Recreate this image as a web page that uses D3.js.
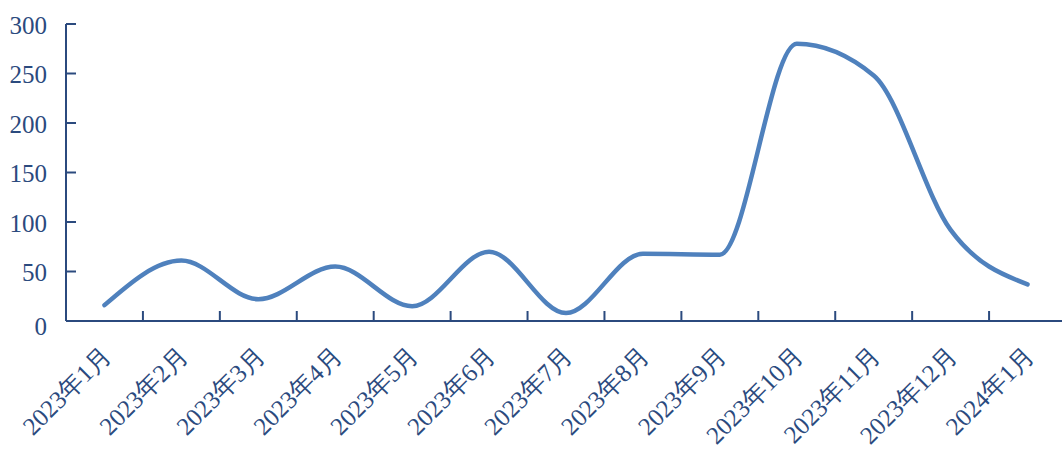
<!DOCTYPE html>
<html><head><meta charset="utf-8">
<script src="https://cdn.jsdelivr.net/npm/d3@7"></script>
<style>body{margin:0;background:#fff}svg{display:block}</style>
</head><body><svg id="c" width="1062" height="454"></svg>
<script>
const categories = ["2023年1月","2023年2月","2023年3月","2023年4月","2023年5月","2023年6月","2023年7月","2023年8月","2023年9月","2023年10月","2023年11月","2023年12月","2024年1月"];
const values = [16, 61, 22, 55, 15, 70, 8, 68, 67, 280, 248, 92, 37];
const yTicks = [0, 50, 100, 150, 200, 250, 300];

(function () {
const svg = d3.select("#c");
const axisColor = "#2b4a7e";
const font = "'Liberation Serif','Times New Roman',serif";
const mLeft = 66, mRight = 1066, mTop = 24, mBottom = 321;

const x = d3.scaleBand().domain(categories).range([mLeft, mRight]);
const y = d3.scaleLinear().domain([0, 300]).range([mBottom, mTop]);

// y axis
svg.append("line").attr("x1", mLeft).attr("x2", mLeft).attr("y1", y(300)).attr("y2", mBottom)
  .attr("stroke", axisColor).attr("stroke-width", 2);
yTicks.forEach(t => {
  svg.append("line").attr("x1", mLeft).attr("x2", mLeft + 10).attr("y1", y(t)).attr("y2", y(t))
    .attr("stroke", axisColor).attr("stroke-width", 2);
  svg.append("text").attr("x", 47).attr("y", y(t) + (t === 0 ? 5 : 1)).attr("dy", "0.35em")
    .attr("text-anchor", "end").attr("font-family", font).attr("font-size", 25)
    .attr("fill", axisColor).text(t);
});

// x axis
svg.append("line").attr("x1", mLeft).attr("x2", 1062).attr("y1", mBottom).attr("y2", mBottom)
  .attr("stroke", axisColor).attr("stroke-width", 2);
categories.forEach((c, i) => {
  if (i > 0) {
    const bx = x(c);
    svg.append("line").attr("x1", bx).attr("x2", bx).attr("y1", mBottom - 10).attr("y2", mBottom)
      .attr("stroke", axisColor).attr("stroke-width", 2);
  }
  const cx = x(c) + x.bandwidth() / 2;
  svg.append("text").attr("transform", `translate(${cx + 8},${mBottom + 36}) rotate(-45)`)
    .attr("text-anchor", "end").attr("font-family", font).attr("font-size", 25)
    .attr("fill", axisColor).text(c);
});

const line = d3.line()
  .x((d, i) => x(categories[i]) + x.bandwidth() / 2)
  .y(d => y(d))
  .curve(d3.curveMonotoneX);

svg.append("path").datum(values).attr("d", line)
  .attr("fill", "none").attr("stroke", "#4f81bd").attr("stroke-width", 4.5)
  .attr("stroke-linecap", "round").attr("stroke-linejoin", "round");
})();
</script></body></html>
